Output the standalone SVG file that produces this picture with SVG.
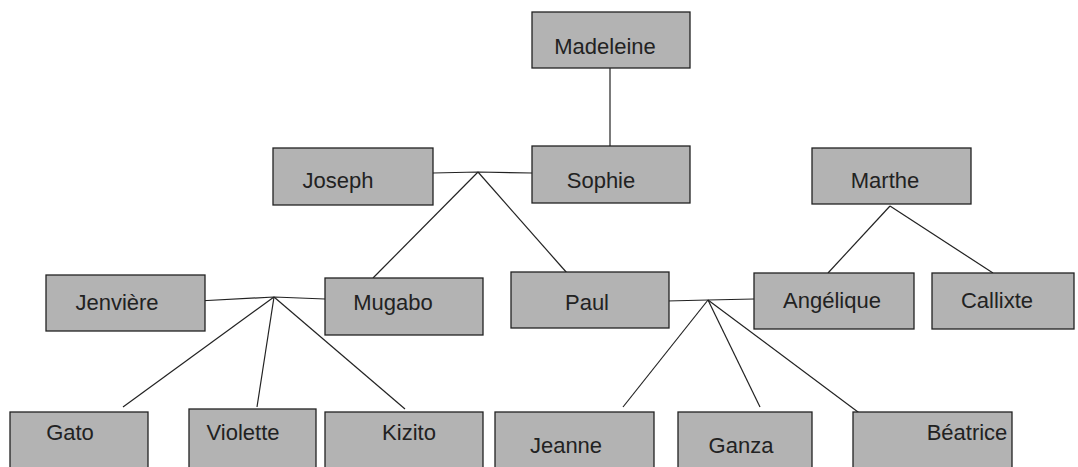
<svg xmlns="http://www.w3.org/2000/svg" width="1078" height="467" viewBox="0 0 1078 467">
<style>
.box{fill:#b3b3b3;stroke:#222;stroke-width:1.3}
.lbl{font-family:"Liberation Sans",Arial,sans-serif;font-size:22px;fill:#222;text-anchor:middle}
.ln{stroke:#222;stroke-width:1.2;fill:none}
</style>
<rect width="1078" height="467" fill="#fff"/>
<g id="connectors">
<line class="ln" x1="610" y1="68" x2="610" y2="146"/>
<polyline class="ln" points="433,173 478,172 532,173"/>
<line class="ln" x1="478" y1="172" x2="373" y2="278"/>
<line class="ln" x1="478" y1="172" x2="567" y2="273"/>
<polyline class="ln" points="198,301 274,297 325,299"/>
<line class="ln" x1="274" y1="297" x2="123" y2="407"/>
<line class="ln" x1="274" y1="297" x2="257" y2="407"/>
<line class="ln" x1="274" y1="297" x2="405" y2="409"/>
<polyline class="ln" points="667,301 708,300 754,299"/>
<line class="ln" x1="708" y1="300" x2="623" y2="407"/>
<line class="ln" x1="708" y1="300" x2="760" y2="407"/>
<line class="ln" x1="708" y1="300" x2="862" y2="415"/>
<line class="ln" x1="890" y1="206" x2="828" y2="273"/>
<line class="ln" x1="890" y1="206" x2="993" y2="273"/>
</g>
<g id="madeleine"><rect class="box" x="532" y="12" width="158" height="56"/><text class="lbl" x="605" y="54">Madeleine</text></g>
<g id="joseph"><rect class="box" x="273" y="148" width="160" height="57"/><text class="lbl" x="338" y="188">Joseph</text></g>
<g id="sophie"><rect class="box" x="532" y="146" width="158" height="57"/><text class="lbl" x="601" y="188">Sophie</text></g>
<g id="marthe"><rect class="box" x="812" y="148" width="159" height="56"/><text class="lbl" x="885" y="188">Marthe</text></g>
<g id="jenviere"><rect class="box" x="46" y="275" width="159" height="56"/><text class="lbl" x="117" y="310">Jenvière</text></g>
<g id="mugabo"><rect class="box" x="325" y="278" width="158" height="57"/><text class="lbl" x="393" y="310">Mugabo</text></g>
<g id="paul"><rect class="box" x="511" y="272" width="158" height="56"/><text class="lbl" x="587" y="310">Paul</text></g>
<g id="angelique"><rect class="box" x="754" y="273" width="160" height="56"/><text class="lbl" x="832" y="308">Angélique</text></g>
<g id="callixte"><rect class="box" x="932" y="273" width="142" height="56"/><text class="lbl" x="997" y="308">Callixte</text></g>
<g id="gato"><rect class="box" x="10" y="412" width="138" height="70"/><text class="lbl" x="70" y="440">Gato</text></g>
<g id="violette"><rect class="box" x="189" y="409" width="127" height="70"/><text class="lbl" x="243" y="440">Violette</text></g>
<g id="kizito"><rect class="box" x="325" y="412" width="158" height="70"/><text class="lbl" x="409" y="440">Kizito</text></g>
<g id="jeanne"><rect class="box" x="495" y="412" width="159" height="70"/><text class="lbl" x="566" y="453">Jeanne</text></g>
<g id="ganza"><rect class="box" x="678" y="412" width="134" height="70"/><text class="lbl" x="741" y="453">Ganza</text></g>
<g id="beatrice"><rect class="box" x="853" y="412" width="159" height="70"/><text class="lbl" x="967" y="440">Béatrice</text></g>
</svg>
